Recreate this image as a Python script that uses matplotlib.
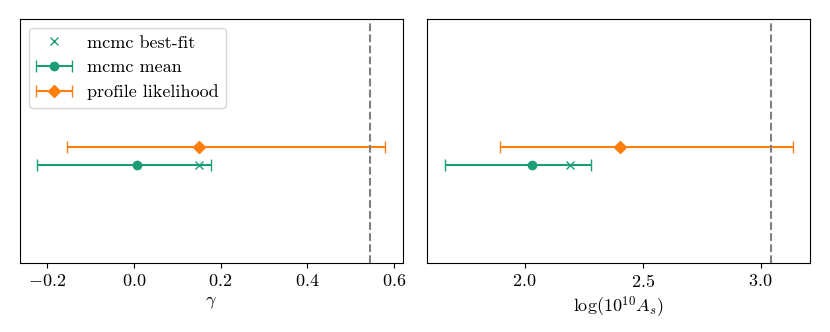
import numpy as np
import matplotlib.pyplot as plt
from matplotlib.legend_handler import HandlerErrorbar
from matplotlib.container import ErrorbarContainer

plt.rcParams['font.family'] = 'serif'
plt.rcParams['font.serif'] = ['cmr10', 'DejaVu Serif']
plt.rcParams['mathtext.fontset'] = 'cm'
plt.rcParams['axes.formatter.use_mathtext'] = True
plt.rcParams['font.size'] = 13

green = '#1b9e77'
orange = '#ff7f0e'

# gamma
gamma_bestfit = 0.150
gamma_mean = 0.006
gamma_mean_lo = -0.223
gamma_mean_hi = 0.177
gamma_prof = 0.150
gamma_prof_lo = -0.155
gamma_prof_hi = 0.580
gamma_ref = 0.544

# log(10^10 A_s)
As_bestfit = 2.193
As_mean = 2.032
As_mean_lo = 1.662
As_mean_hi = 2.281
As_prof = 2.406
As_prof_lo = 1.897
As_prof_hi = 3.136
As_ref = 3.045

y_mcmc = -0.2
y_prof = -0.05

fig, axes = plt.subplots(1, 2, figsize=(8.3, 3.32), dpi=100)
fig.subplots_adjust(left=0.024, right=0.976, top=0.943, bottom=0.208, wspace=0.065)

params = [
    (gamma_bestfit, gamma_mean, gamma_mean_lo, gamma_mean_hi, gamma_prof, gamma_prof_lo, gamma_prof_hi, gamma_ref, r'$\gamma$'),
    (As_bestfit, As_mean, As_mean_lo, As_mean_hi, As_prof, As_prof_lo, As_prof_hi, As_ref, r'$\log(10^{10} A_s)$'),
]

for i, (bf, mean, mlo, mhi, prof, plo, phi, ref, label) in enumerate(params):
    ax = axes[i]
    ax.errorbar([mean], [y_mcmc], xerr=[[mean - mlo], [mhi - mean]], fmt='o', color=green,
                capsize=4, markersize=6, lw=1.5, label='mcmc mean')
    ax.plot([bf], [y_mcmc], 'x', color=green, markersize=6, label='mcmc best-fit')
    ax.errorbar([prof], [y_prof], xerr=[[prof - plo], [phi - prof]], fmt='D', color=orange,
                capsize=4, markersize=6.5, lw=1.5, label='profile likelihood')
    ax.axvline(ref, color='gray', ls='--', lw=1.5)
    ax.set_ylim(-1, 1)
    ax.set_yticks([])
    ax.set_xlabel(label)

axes[1].set_xticks([2.0, 2.5, 3.0])

h, l = axes[0].get_legend_handles_labels()
want = ['mcmc best-fit', 'mcmc mean', 'profile likelihood']
hmap = dict(zip(l, h))
axes[0].legend([hmap[k] for k in want], want, loc='upper left',
               handler_map={ErrorbarContainer: HandlerErrorbar(xerr_size=1.0)})

plt.savefig('out.png')
